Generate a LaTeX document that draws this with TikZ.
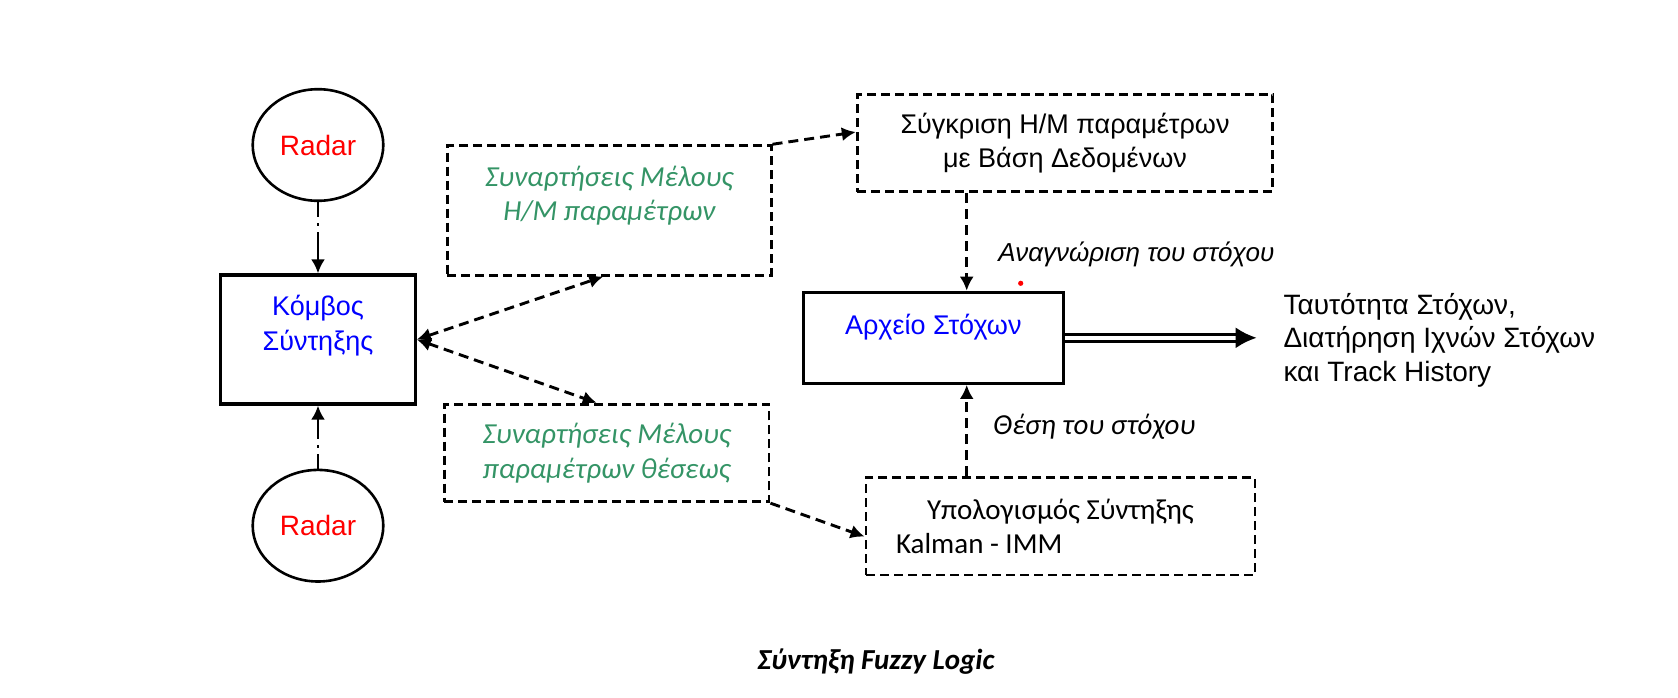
\documentclass[tikz,border=0pt]{standalone}
\usepackage{fontspec}
\setmainfont{Liberation Sans}
\newfontfamily\carl{Carlito}
\usetikzlibrary{arrows.meta,shapes.geometric,calc}
\definecolor{memgreen}{RGB}{52,148,102}
\tikzset{>={Latex[length=7pt,width=7pt]}}

\begin{document}
\begin{tikzpicture}[x=0.5pt,y=-0.5pt,
    radar/.style={ellipse,draw,line width=1.3pt,minimum width=65.3pt,
        minimum height=55.8pt,inner sep=0pt,text=red,
        font=\fontsize{14}{17}\selectfont},
    solidbox/.style={draw,line width=1.6pt,inner sep=0pt},
    dashbox/.style={draw,line width=1.45pt,dash pattern=on 4.5pt off 2.5pt,inner sep=0pt},
    link/.style={->,line width=1.45pt,dash pattern=on 5pt off 3pt},
    dashdot/.style={->,line width=1.45pt,
        dash pattern=on 7.5pt off 3pt on 1.5pt off 3pt on 15pt off 0pt},
    bluetxt/.style={text=blue,align=center,font=\fontsize{13.5}{17.5}\selectfont},
    greentxt/.style={text=memgreen,align=center,
        font=\carl\itshape\fontsize{14.5}{17.3}\selectfont},
    plain/.style={align=center,font=\fontsize{13.5}{16.7}\selectfont},
  ]
    \useasboundingbox (0,0) rectangle (1678,697);

    % sensors and fusion node
    \node[radar] (radar1) at (318,145) {Radar};
    \node[radar] (radar2) at (318,525.7) {Radar};
    \node[solidbox,minimum width=97.2pt,minimum height=64.5pt,
        label={[bluetxt,yshift=7pt]center:{Κόμβος\\Σύντηξης}}] (kombos) at (318,339.5) {};

    % membership functions
    \node[dashbox,minimum width=161.9pt,minimum height=64.7pt,
        label={[greentxt,yshift=7.3pt]center:{Συναρτήσεις Μέλους\\Η/Μ παραμέτρων}}] (hm) at (609.2,210.4) {};
    \node[dashbox,minimum width=162.3pt,minimum height=48.7pt,greentxt] (pos) at (606.7,453)
        {Συναρτήσεις Μέλους\\παραμέτρων θέσεως};

    % right column
    \node[dashbox,minimum width=207.7pt,minimum height=48.7pt,plain] (cmp) at (1065,143)
        {Σύγκριση Η/Μ παραμέτρων\\με Βάση Δεδομένων};
    \node[solidbox,minimum width=130pt,minimum height=45.5pt,
        label={[bluetxt,yshift=5.5pt]center:Αρχείο Στόχων}] (arch) at (933.3,337.8) {};
    \node[dashbox,minimum width=194.5pt,minimum height=48.7pt,align=left,
        font=\carl\fontsize{14.5}{16.7}\selectfont] (kal) at (1060.5,526.3)
        {\hspace*{15.5pt}Υπολογισμός Σύντηξης\hspace*{15.5pt}\\Kalman - IMM};

    \coordinate (vx) at (966.7,300);
    \node[anchor=west,inner sep=0pt,font=\itshape\fontsize{13}{15}\selectfont] (anag)
        at (998,254) {Αναγνώριση του στόχου};
    \node[anchor=west,inner sep=0pt,font=\carl\itshape\fontsize{14.5}{17}\selectfont] (thesi)
        at (993,426.7) {Θέση του στόχου};
    \fill[red] (1020.7,283.3) circle (1.3pt);

    \node[anchor=west,inner xsep=13.2pt,inner ysep=0pt,align=left,
        font=\fontsize{14}{16.7}\selectfont] (out) at (1256.7,340)
        {Ταυτότητα Στόχων,\\Διατήρηση Ιχνών Στόχων\\και Track History};

    \node[font=\carl\bfseries\itshape\fontsize{14.5}{17}\selectfont] (caption) at (876,661.7)
        {Σύντηξη Fuzzy Logic};

    % connectors
    \draw[dashdot] (radar1) -- (kombos);
    \draw[dashdot] (radar2) -- (kombos);
    \draw[link,<->] (kombos.east) -- ($(hm.south)+(-6,0)$);
    \draw[link,<->] (kombos.east) -- ($(pos.north)+(-10,0)$);
    \draw[link] (hm.north east) -- (cmp.177);
    \draw[link] (pos.south east) -- (kal.183);
    \draw[link] (vx |- cmp.south) -- (vx |- arch.north);
    \draw[link] (vx |- kal.north) -- (vx |- arch.south);
    \draw[-{Latex[length=10.5pt,width=10.5pt]},line width=1.5pt,double distance=2pt]
        (arch.east) -- (arch.east -| out.west);
\end{tikzpicture}
\end{document}
